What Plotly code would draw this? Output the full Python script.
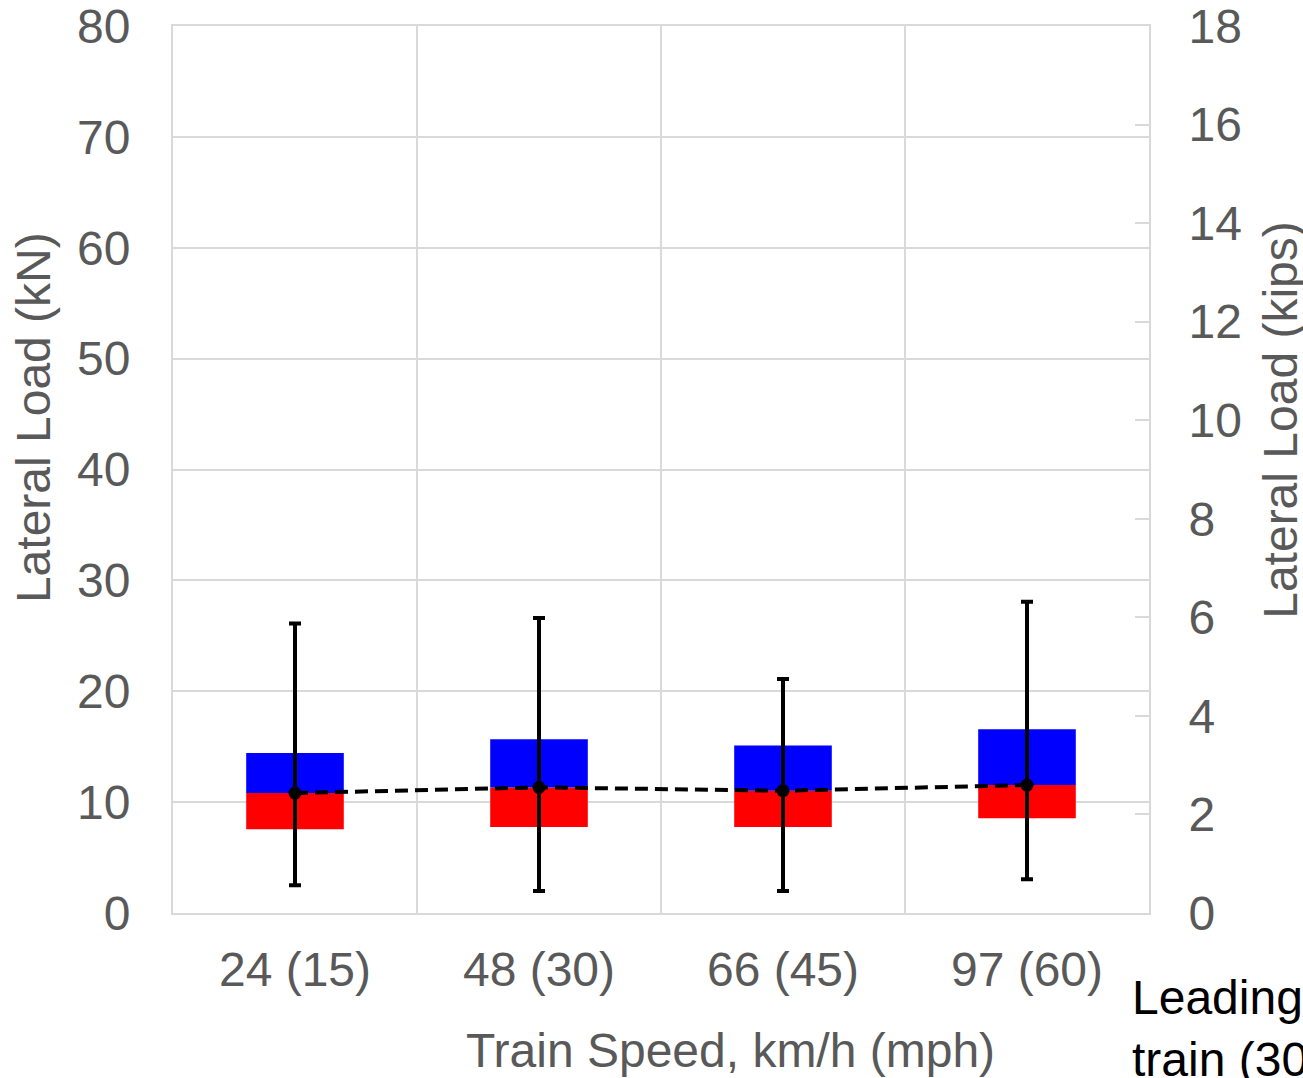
import plotly.graph_objects as go

# ---- data (kN) ----
speeds = ["24 (15)", "48 (30)", "66 (45)", "97 (60)"]
q1 = [7.55, 7.76, 7.76, 8.54]          # bottom of red box
median = [10.82, 11.33, 11.03, 11.54]  # red/blue boundary
q3 = [14.43, 15.66, 15.10, 16.57]      # top of blue box
mean = [10.82, 11.33, 11.03, 11.54]    # black dots (dashed line)
vmax = [26.1, 26.6, 21.1, 28.08]       # top of whisker
vmin = [2.5, 1.98, 1.98, 3.04]         # bottom of whisker

kn_ticks = [0, 10, 20, 30, 40, 50, 60, 70, 80]
kip_ticks = [0, 2, 4, 6, 8, 10, 12, 14, 16, 18]
KN_PER_KIP = 4.448

GRID = "#d9d9d9"
TXT = "#595959"
FONT = "Liberation Sans, Arial, sans-serif"
FS = 48

red_h = [m - a for m, a in zip(median, q1)]
blue_h = [b - m for b, m in zip(q3, median)]
err_plus = [h - m for h, m in zip(vmax, mean)]
err_minus = [m - l for m, l in zip(mean, vmin)]
mean_kips = [m / KN_PER_KIP for m in mean]

fig = go.Figure()
fig.add_trace(go.Bar(x=speeds, y=red_h, base=q1, width=0.4,
                     marker=dict(color="#FF0000", line=dict(width=0)),
                     showlegend=False, hoverinfo="skip"))
fig.add_trace(go.Bar(x=speeds, y=blue_h, base=median, width=0.4,
                     marker=dict(color="#0000FF", line=dict(width=0)),
                     showlegend=False, hoverinfo="skip"))
fig.add_trace(go.Scatter(x=speeds, y=mean, mode="lines+markers",
                         line=dict(color="black", width=4, dash="13px,7px"),
                         marker=dict(color="black", size=13),
                         error_y=dict(type="data", array=err_plus, arrayminus=err_minus,
                                      color="black", thickness=4, width=6),
                         showlegend=False))
# same means in kips on the secondary axis (invisible, keeps the right axis drawn)
fig.add_trace(go.Scatter(x=speeds, y=mean_kips, yaxis="y2", mode="markers",
                         marker=dict(opacity=0), showlegend=False, hoverinfo="skip"))

fig.update_layout(
    width=1303, height=1078,
    margin=dict(l=173, r=154, t=26, b=165, autoexpand=False),
    paper_bgcolor="white", plot_bgcolor="white",
    barmode="overlay",
    font=dict(family=FONT, size=FS, color=TXT),
    xaxis=dict(type="category", tickson="boundaries", showgrid=True, gridcolor=GRID,
               gridwidth=2, ticks="", showline=True, linecolor=GRID, linewidth=2,
               mirror=True, tickfont=dict(size=FS, color=TXT), ticklabelstandoff=13,
               range=[-0.5, 3.5], automargin=False, ticklabeloverflow="allow"),
    yaxis=dict(range=[0, 80], tickvals=kn_ticks, showgrid=True, gridcolor=GRID,
               gridwidth=2, ticks="", showline=True, linecolor=GRID, linewidth=2,
               mirror=True, zeroline=False, tickfont=dict(size=FS, color=TXT),
               ticklabelstandoff=31, automargin=False, ticklabeloverflow="allow"),
    yaxis2=dict(range=[0, 18], tickvals=kip_ticks, overlaying="y", side="right",
                showgrid=False, zeroline=False, ticks="inside", ticklen=14,
                tickcolor=GRID, tickwidth=2, showline=True, linecolor=GRID, linewidth=2,
                tickfont=dict(size=FS, color=TXT), ticklabelstandoff=28,
                automargin=False, ticklabeloverflow="allow"),
)

fig.add_annotation(text="Train Speed, km/h (mph)", xref="paper", yref="paper",
                   x=0.5707, y=-0.1545, xanchor="center", yanchor="middle",
                   showarrow=False, font=dict(size=FS, color=TXT))
fig.add_annotation(text="Lateral Load (kN)", xref="paper", yref="paper",
                   x=-0.1434, y=0.558, xanchor="center", yanchor="middle",
                   textangle=-90, showarrow=False, font=dict(size=FS, color=TXT))
fig.add_annotation(text="Lateral Load (kips)", xref="paper", yref="paper",
                   x=1.1352, y=0.556, xanchor="center", yanchor="middle",
                   textangle=-90, showarrow=False, font=dict(size=FS, color=TXT))
fig.add_annotation(text="Leading<br>train (30 cars)", xref="paper", yref="paper",
                   x=0.9805, y=-0.063, xanchor="left", yanchor="top", align="left",
                   showarrow=False, font=dict(size=FS, color="black"))

fig.write_html(
    "out.html",
    config={"displayModeBar": False},
    post_script="document.body.style.margin='0';document.body.style.overflow='hidden';",
)
